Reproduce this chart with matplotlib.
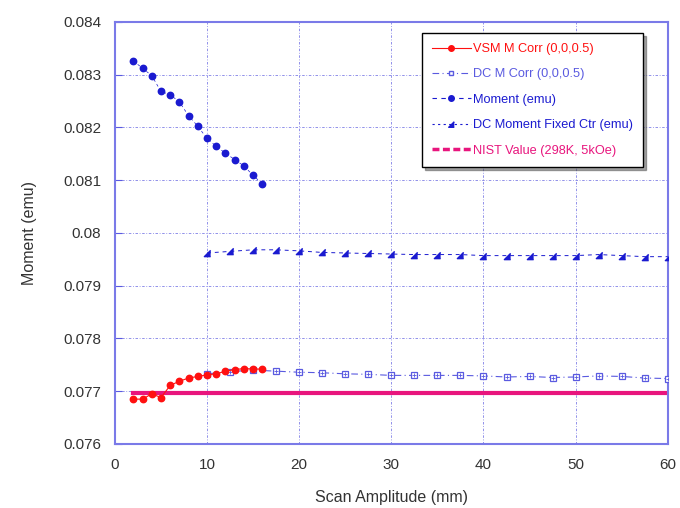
import matplotlib
matplotlib.use("Agg")
import matplotlib.pyplot as plt
from matplotlib.lines import Line2D

plt.rcParams['font.family'] = ['Liberation Sans', 'DejaVu Sans']

# scan amplitude (mm) and measured moments (emu)
vsm_x = [2, 3, 4, 5, 6, 7, 8, 9, 10, 11, 12, 13, 14, 15, 16]
vsm_y = [0.07685, 0.07685, 0.07695, 0.07688, 0.07711, 0.07719, 0.07725, 0.07728,
         0.07731, 0.07733, 0.07738, 0.07741, 0.07743, 0.07742, 0.07742]

dc_x = [10, 12.5, 15, 17.5, 20, 22.5, 25, 27.5, 30, 32.5, 35, 37.5, 40,
        42.5, 45, 47.5, 50, 52.5, 55, 57.5, 60]
dc_corr = [0.07733, 0.07737, 0.07740, 0.07738, 0.07736, 0.07735, 0.07733, 0.07732,
           0.07730, 0.07730, 0.07730, 0.07730, 0.07729, 0.07727, 0.07728, 0.07726,
           0.07727, 0.07729, 0.07728, 0.07725, 0.07724]

mom_x = [2, 3, 4, 5, 6, 7, 8, 9, 10, 11, 12, 13, 14, 15, 16]
mom_y = [0.08326, 0.08312, 0.08298, 0.08268, 0.08262, 0.08248, 0.08222, 0.08202,
         0.08179, 0.08164, 0.08151, 0.08139, 0.08127, 0.08109, 0.08093]

fixed_y = [0.07962, 0.07965, 0.07968, 0.07968, 0.07966, 0.07963, 0.07962, 0.07961,
           0.07960, 0.07959, 0.07959, 0.07959, 0.07957, 0.07957, 0.07957, 0.07957,
           0.07957, 0.07959, 0.07957, 0.07955, 0.07955]

nist_x = [2, 60]
nist_value = 0.07696

red = '#ff1010'
blue = '#1a1ad0'
light_blue = '#5a5ae0'
pink = '#e8157d'
right_tri = [(1, -1), (-1, -1), (1, 1)]

fig = plt.figure(figsize=(6.8, 5.08), dpi=100)
ax = fig.add_axes([0.169, 0.126, 0.813, 0.831])

ax.plot(nist_x, [nist_value, nist_value], color=pink, lw=3, zorder=2)
ax.plot(dc_x, dc_corr, color=light_blue, lw=0.8, ls=(0, (6, 3, 1, 3)),
        marker='s', ms=4, mfc='white', mec=light_blue, mew=0.9, zorder=3)
ax.plot(dc_x, dc_corr, ls='none', marker='+', ms=3.5, mec=light_blue, mew=0.6, zorder=4)
ax.plot(dc_x, fixed_y, color=blue, lw=0.7, ls=(0, (4, 4)),
        marker=right_tri, ms=4.5, mfc=blue, mec=blue, zorder=3)
ax.plot(mom_x, mom_y, color=blue, lw=0.5, ls=(0, (4, 4)),
        marker='o', ms=4.6, mfc=blue, mec=blue, zorder=3)
ax.plot(vsm_x, vsm_y, color=red, lw=0.8, marker='o', ms=4.6, mfc=red, mec=red, zorder=5)

ax.set_xlim(0, 60)
ax.set_ylim(0.076, 0.084)
ax.set_xticks(range(0, 61, 10))
ax.set_yticks([0.076 + 0.001 * i for i in range(9)])
ax.set_yticklabels(['%g' % round(0.076 + 0.001 * i, 3) for i in range(9)])
ax.tick_params(axis='y', direction='in', length=5, color=light_blue, labelsize=11,
               labelcolor='#333333', pad=10)
ax.tick_params(axis='x', direction='in', length=0, labelsize=11,
               labelcolor='#333333', pad=10)
ax.grid(True, color='#8080e6', ls=(0, (3, 2, 1, 2)), lw=0.6)
for s in ax.spines.values():
    s.set_color('#7a7ae8')
    s.set_linewidth(1.5)

ax.set_xlabel('Scan Amplitude (mm)', fontsize=11.5, color='#333333', labelpad=13)
ax.set_ylabel('Moment (emu)', fontsize=11.5, color='#333333', labelpad=19)

handles = [
    Line2D([], [], color=red, lw=0.8, marker='o', ms=4, mfc=red, mec=red),
    Line2D([], [], color=light_blue, lw=0.8, ls=(0, (6, 3, 1, 3)), marker='s', ms=3.5,
           mfc='white', mec=light_blue),
    Line2D([], [], color=blue, lw=0.8, ls=(0, (4, 4)), marker='o', ms=4, mfc=blue),
    Line2D([], [], color=blue, lw=0.8, ls=(0, (2, 3)), marker=right_tri, ms=4, mfc=blue),
    Line2D([], [], color=pink, lw=2.5, ls=(0, (2, 1))),
]
labels = ['VSM M Corr (0,0,0.5)', 'DC M Corr (0,0,0.5)', 'Moment (emu)',
          'DC Moment Fixed Ctr (emu)', 'NIST Value (298K, 5kOe)']
leg = ax.legend(handles, labels, loc='upper right', bbox_to_anchor=(0.956, 0.974),
                prop={'size': 9.2}, frameon=True, fancybox=False, shadow=True,
                handlelength=3.0, handletextpad=0.2, labelspacing=1.05,
                borderpad=0.8, borderaxespad=0)
leg.get_frame().set_edgecolor('black')
leg.get_frame().set_linewidth(1)
for txt, col in zip(leg.get_texts(), [red, light_blue, blue, blue, pink]):
    txt.set_color(col)

fig.savefig('out.png', dpi=100)
